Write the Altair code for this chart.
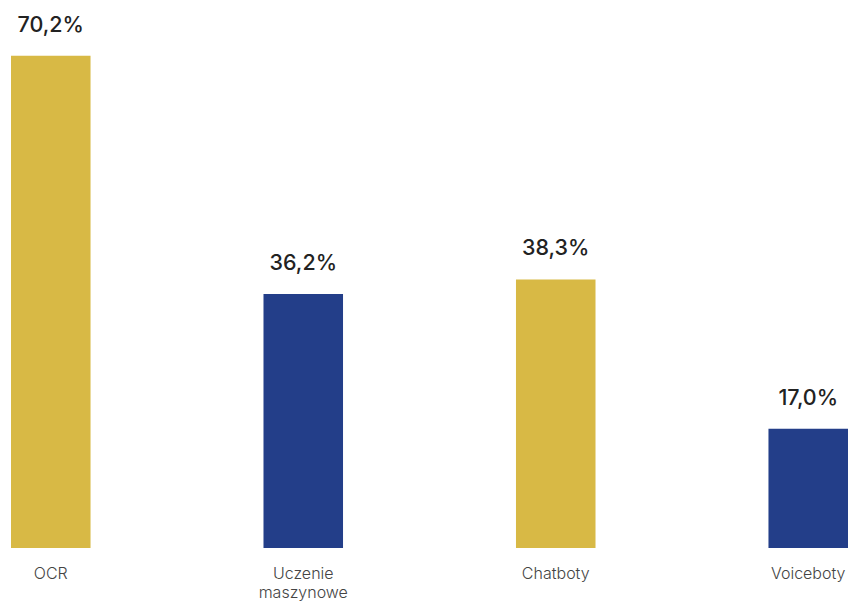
import altair as alt
import pandas as pd

categories = ["OCR", "Uczenie\nmaszynowe", "Chatboty", "Voiceboty"]
values = [70.2, 36.2, 38.3, 17.0]
labels = ["70,2%", "36,2%", "38,3%", "17,0%"]
colors = ["#D8B945", "#233E89", "#D8B945", "#233E89"]

df = pd.DataFrame({"cat": categories, "val": values, "lab": labels, "col": colors})

x = alt.X("cat:N", sort=categories, title=None,
          scale=alt.Scale(paddingInner=0.685, paddingOuter=0),
          axis=alt.Axis(labelAngle=0, ticks=False, domain=False, grid=False,
                        labelExpr="split(datum.label, '\\n')",
                        labelFont="Inter", labelFontSize=16, labelFontWeight=300,
                        labelColor="#444444",
                        labelPadding=17, labelLineHeight=19, labelBaseline="top"))
y = alt.Y("val:Q", scale=alt.Scale(domain=[0, 75], nice=False), axis=None)

bars = alt.Chart(df).mark_bar().encode(x=x, y=y, color=alt.Color("col:N", scale=None))
text = alt.Chart(df).mark_text(font="Inter", fontSize=21.5, fontWeight=500, color="#222222",
                               baseline="alphabetic", dy=-24).encode(
    x=alt.X("cat:N", sort=categories), y=y, text="lab:N")

chart = (bars + text).properties(
    width=837, height=526,
    autosize=alt.AutoSizeParams(type="none"),
    padding={"left": 11, "top": 22, "right": 3, "bottom": 53},
).configure_view(stroke=None)

chart.save("out.html", embed_options={"renderer": "svg", "actions": False})
